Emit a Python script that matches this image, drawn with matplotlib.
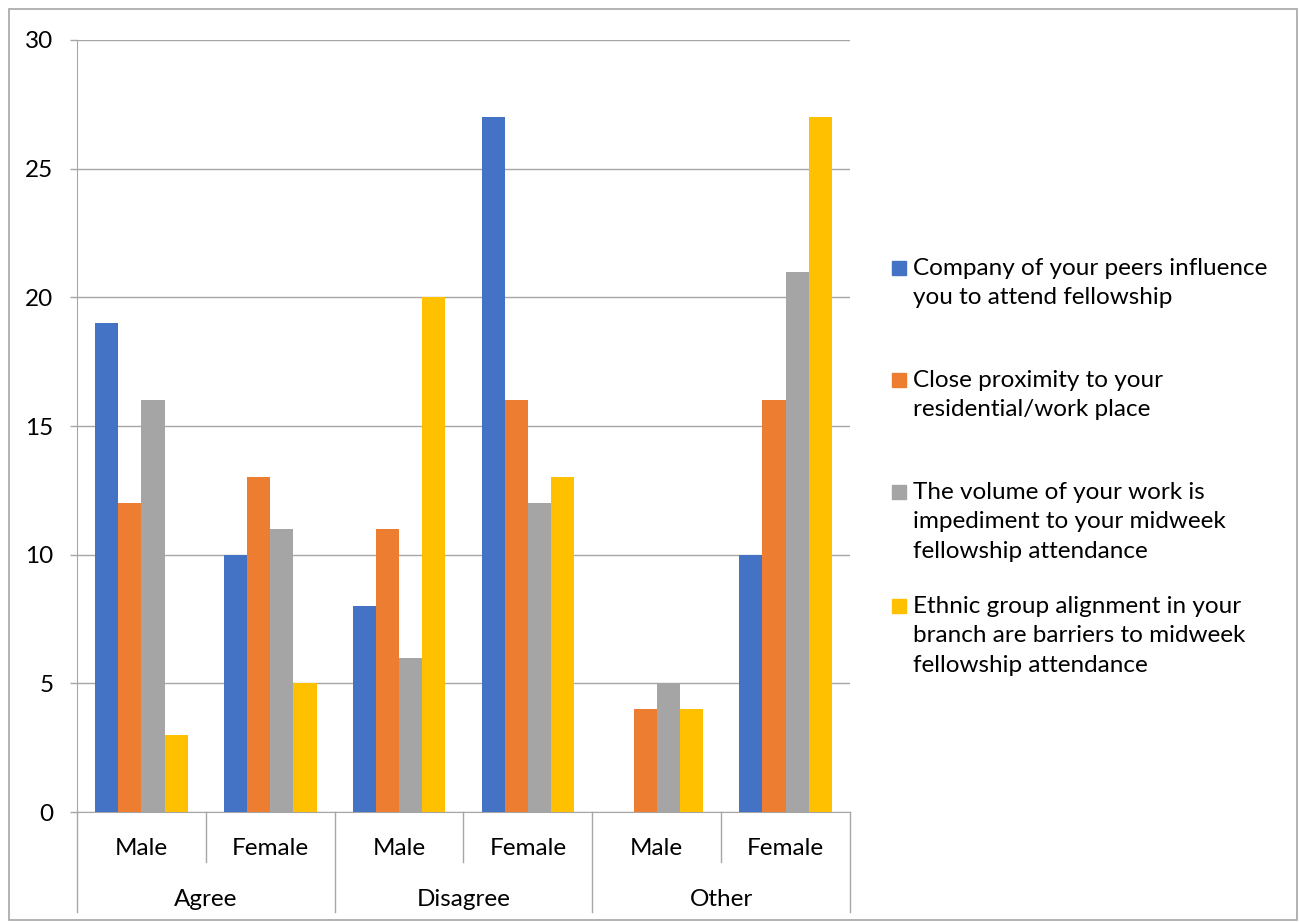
import numpy as np
import matplotlib
matplotlib.use("Agg")
import matplotlib.pyplot as plt
from matplotlib.patches import Rectangle

# data
genders = ['Male', 'Female', 'Male', 'Female', 'Male', 'Female']
responses = ['Agree', 'Disagree', 'Other']
series_names = ['Company of your peers influence\nyou to attend fellowship',
                'Close proximity to your\nresidential/work place',
                'The volume of your work is\nimpediment to your midweek\nfellowship attendance',
                'Ethnic group alignment in your\nbranch are barriers to midweek\nfellowship attendance']
peers = [19, 10, 8, 27, 0, 10]
proximity = [12, 13, 11, 16, 4, 16]
volume = [16, 11, 6, 12, 5, 21]
ethnic = [3, 5, 20, 13, 4, 27]
colors = ['#4472C4', '#ED7D31', '#A5A5A5', '#FFC000']

plt.rcParams['font.family'] = ['Lato', 'DejaVu Sans']
fs = 17.5
grey = '#a6a6a6'

fig = plt.figure(figsize=(12.99, 9.22), dpi=100)
fig.patches.append(Rectangle((9/1299, 0.002), 1288/1299, 1 - 9/922 - 0.002,
                             transform=fig.transFigure, fill=False,
                             edgecolor=grey, lw=1.2))
ax = fig.add_axes([77/1299, 1 - 812/922, (850-77)/1299, (812-40)/922])

x = np.arange(len(genders))
w = 0.18
allvals = [peers, proximity, volume, ethnic]
for i, vals in enumerate(allvals):
    ax.bar(x + (i - 1.5)*w, vals, w, color=colors[i], zorder=3)

ax.set_xlim(-0.5, len(genders) - 0.5)
ax.set_ylim(0, 30)
ax.set_yticks(range(0, 31, 5))
ax.yaxis.grid(True, color=grey, lw=1, zorder=0)
for s in ['top', 'right']:
    ax.spines[s].set_visible(False)
ax.spines['left'].set_color(grey)
ax.spines['bottom'].set_color(grey)
ax.tick_params(axis='y', length=5, color=grey, labelsize=fs, pad=12, width=1)
ax.set_xticks([])

# two level category axis
trans = ax.get_xaxis_transform()
inner = -50/772
outer = -100/772
for b in np.arange(-0.5, len(genders), 1):
    is_outer = (b + 0.5) % 2 == 0
    ax.plot([b, b], [0, outer if is_outer else inner], color=grey, lw=1,
            transform=trans, clip_on=False)
for i, g in enumerate(genders):
    ax.text(i, -36/772, g, transform=trans, ha='center', va='center', fontsize=fs)
for j, r in enumerate(responses):
    ax.text(2*j + 0.5, -87/772, r, transform=trans, ha='center', va='center', fontsize=fs)

# legend
tops = [268, 380, 492, 606]
for i, name in enumerate(series_names):
    yy = 1 - tops[i]/922
    fig.patches.append(Rectangle((892/1299, yy - 7/922), 14/1299, 14/922,
                                 transform=fig.transFigure, color=colors[i]))
    fig.text(913/1299, yy + 10/922, name, fontsize=fs, va='top', ha='left',
             linespacing=1.5)

fig.savefig('out.png', dpi=100)
